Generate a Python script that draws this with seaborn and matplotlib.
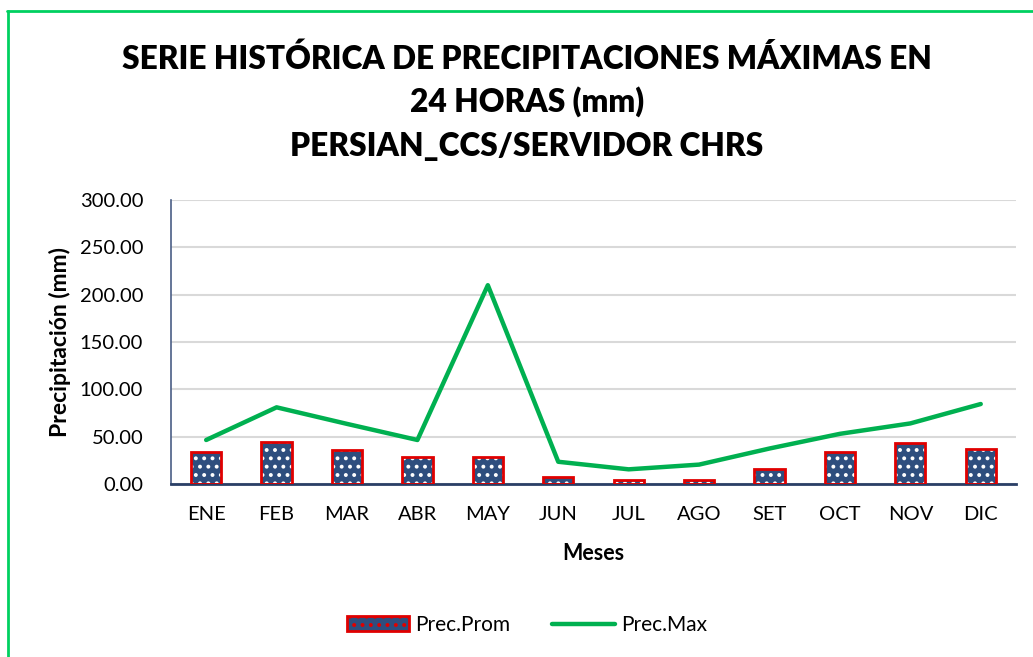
import matplotlib
matplotlib.use("Agg")
import matplotlib.pyplot as plt
import seaborn as sns
import pandas as pd
from matplotlib.patches import Patch
from matplotlib.lines import Line2D

meses = ["ENE", "FEB", "MAR", "ABR", "MAY", "JUN", "JUL", "AGO", "SET", "OCT", "NOV", "DIC"]
prec_prom = [34.0, 44.0, 36.0, 29.0, 29.0, 7.5, 4.5, 4.5, 16.0, 34.0, 43.5, 37.0]
prec_max = [46.5, 81.0, 63.5, 46.5, 210.0, 23.5, 15.5, 20.5, 37.5, 53.0, 64.0, 84.5]
yticks = [0, 50, 100, 150, 200, 250, 300]

df = pd.DataFrame({"Mes": meses, "Prom": prec_prom, "Max": prec_max})

sns.set_theme(style="white")
plt.rcParams["font.family"] = ["Lato", "DejaVu Sans"]
plt.rcParams["hatch.linewidth"] = 1.6
plt.rcParams["text.color"] = "black"
plt.rcParams["axes.labelcolor"] = "black"
plt.rcParams["xtick.color"] = "black"
plt.rcParams["ytick.color"] = "black"

fig = plt.figure(figsize=(10.33, 6.57), dpi=100)
ax = fig.add_axes([0.1655, 0.2633, 0.818, 0.4323])

bar_face = "#2E4E7E"
sns.barplot(data=df, x="Mes", y="Prom", ax=ax, color=bar_face, saturation=1,
            width=0.43, edgecolor="white", linewidth=0, hatch="..", zorder=2)
sns.barplot(data=df, x="Mes", y="Prom", ax=ax, color="#E00000", saturation=1,
            width=0.43, fill=False, linewidth=2.0, zorder=3)
sns.lineplot(data=df, x="Mes", y="Max", ax=ax, color="#00B050", linewidth=3.2,
             sort=False, zorder=4)

ax.set_ylim(0, 300)
ax.set_xlim(-0.5, 11.5)
ax.set_yticks(yticks)
ax.set_yticklabels([f"{v:.2f}" for v in yticks], fontsize=14.5)
ax.tick_params(axis="x", labelsize=14.5, pad=16, length=0)
ax.tick_params(axis="y", pad=20, length=0)
ax.yaxis.grid(True, color="#D9D9D9", linewidth=1.5)
ax.set_axisbelow(True)
for s in ["top", "right"]:
    ax.spines[s].set_visible(False)
ax.spines["left"].set_color("#4A5E85")
ax.spines["left"].set_linewidth(1.2)
ax.spines["bottom"].set_color("#2A3F66")
ax.spines["bottom"].set_linewidth(2)

ax.set_xlabel("Meses", fontsize=15.5, fontweight="bold", labelpad=14)
ax.set_ylabel("Precipitación (mm)", fontsize=16.5, fontweight="bold", labelpad=6)

tkw = dict(ha="center", va="center", fontsize=22.8, fontweight="heavy")
fig.text(0.51, 0.910, "SERIE HISTÓRICA DE PRECIPITACIONES MÁXIMAS EN", **tkw)
fig.text(0.51, 0.846, "24 HORAS (mm)", **tkw)
fig.text(0.51, 0.777, "PERSIAN_CCS/SERVIDOR CHRS", **tkw)

handles = [Patch(facecolor=bar_face, edgecolor="#E00000", hatch="..", linewidth=2),
           Line2D([0], [0], color="#00B050", linewidth=3.2)]
leg = fig.legend(handles, ["Prec.Prom", "Prec.Max"], loc="center", bbox_to_anchor=(0.51, 0.049),
                 ncol=2, frameon=False, fontsize=15, handlelength=3.0, columnspacing=2.0,
                 handletextpad=0.3)

# green frame (top and left edges)
fig.add_artist(Line2D([7 / 1033, 1.0], [1 - 10.5 / 657, 1 - 10.5 / 657], color="#00D060",
                      linewidth=2, transform=fig.transFigure))
fig.add_artist(Line2D([7.5 / 1033, 7.5 / 1033], [0, 1 - 10.5 / 657], color="#00D060",
                      linewidth=2, transform=fig.transFigure))

fig.savefig("out.png", dpi=100)
